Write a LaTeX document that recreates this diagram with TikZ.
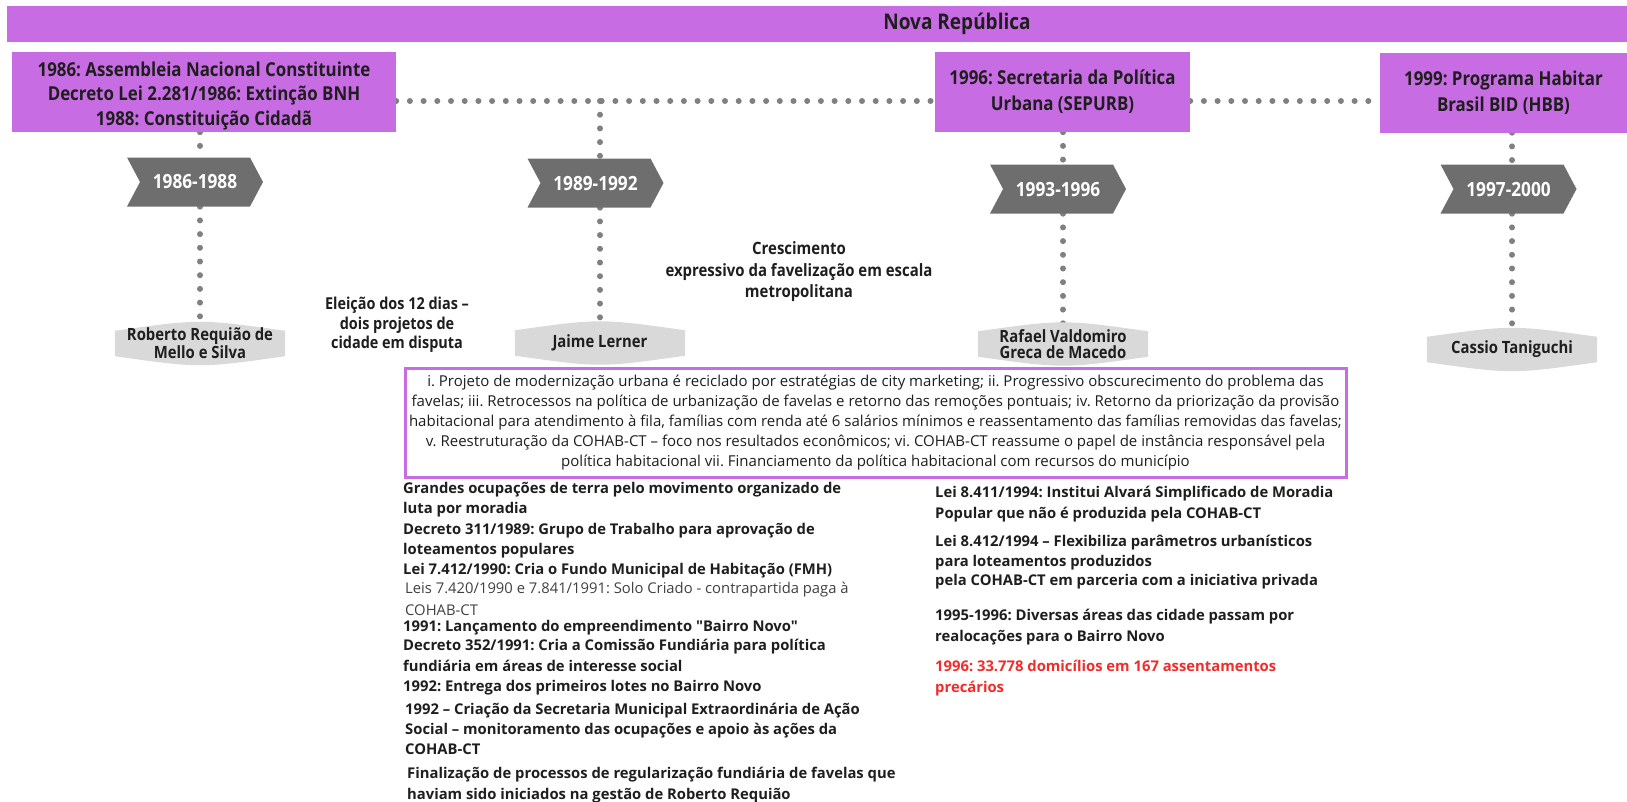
\documentclass[tikz,border=0pt]{standalone}
\usepackage{fontspec}
\newfontfamily\bodyfont{Open Sans}
\newfontfamily\narrowfont{Open Sans}[FakeStretch=0.88]
\usetikzlibrary{shapes.symbols,backgrounds,calc}
\definecolor{rpurple}{HTML}{C86CE4}
\definecolor{rgraydark}{HTML}{6E6E6E}
\definecolor{rgraylight}{HTML}{D9D9D9}
\definecolor{rdots}{HTML}{808080}
\definecolor{rtext}{HTML}{1E1E1E}
\definecolor{rred}{HTML}{F22B2B}
\tikzset{
  evbox/.style={fill=rpurple,inner sep=0pt,text=rtext,align=center,minimum height=80pt,font=\narrowfont\bfseries\fontsize{19.2}{24.4}\selectfont},
  period/.style={shape=signal,signal to=east,signal from=west,signal pointer angle=124,fill=rgraydark,text=white,minimum width=136pt,minimum height=49pt,inner sep=0pt,font=\narrowfont\bfseries\fontsize{19.6}{20}\selectfont},
  gov/.style={inner sep=0pt,minimum width=170pt,minimum height=37pt,align=center,text=rtext,font=\narrowfont\bfseries\fontsize{16.9}{16.6}\selectfont},
  dots/.style={draw=rdots,line width=6pt,line cap=round,dash pattern=on 0pt off 13.7pt},
  note/.style={align=center,inner sep=0pt,text=rtext,font=\narrowfont\bfseries\fontsize{16.4}{19.5}\selectfont},
  item/.style={anchor=west,align=left,inner sep=0pt,text=rtext,font=\bodyfont\bfseries\fontsize{14.8}{20.5}\selectfont},
}
\begin{document}
\frenchspacing
\begin{tikzpicture}[x=1pt,y=-1pt]
\useasboundingbox (0,0) rectangle (1627,801);
% era banner
\fill[rpurple] (7,6) rectangle (1627,42);
\node[text=rtext,font=\narrowfont\bfseries\fontsize{21.6}{22}\selectfont] (era) at (957,24) {Nova República};
% events
\node[evbox,minimum width=384pt] (ev1) at (204,92) {\rule{0pt}{22pt}1986: Assembleia Nacional Constituinte\\Decreto Lei 2.281/1986: Extinção BNH\\1988: Constituição Cidadã};
\node[evbox,minimum width=255pt,font=\narrowfont\bfseries\fontsize{19.2}{26}\selectfont] (ev2) at (1062.5,92) {1996: Secretaria da Política\\Urbana (SEPURB)};
\node[evbox,minimum width=247pt,font=\narrowfont\bfseries\fontsize{19.2}{26}\selectfont] (ev3) at (1503.5,92.5) {1999: Programa Habitar\\Brasil BID (HBB)};
\coordinate (hline) at (0,101);
% periods
\node[period] (per1) at (195,182) {1986-1988};
\node[period] (per2) at (595.5,183) {1989-1992};
\node[period] (per3) at (1058,189) {1993-1996};
\node[period] (per4) at (1508.5,189) {1997-2000};
% mayors
\node[gov] (gov1) at (200,343.5) {Roberto Requião de\\Mello e Silva};
\node[gov] (gov2) at (600,343) {Jaime Lerner};
\node[gov] (gov3) at (1063,344) {Rafael Valdomiro\\Greca de Macedo};
\node[gov] (gov4) at (1512,349.5) {Cassio Taniguchi};
\begin{scope}[on background layer]
\draw[dots] (ev1.east |- hline) -- (ev2.west |- hline);
\draw[dots] (ev2.east |- hline) -- (ev3.west |- hline);
\draw[dots] (gov1 |- ev1.south) -- (gov1 |- per1.north);
\draw[dots] (gov2 |- hline) -- (gov2 |- per2.north);
\draw[dots] (gov3 |- ev2.south) -- (gov3 |- per3.north);
\draw[dots] (gov4 |- ev3.south) -- (gov4 |- per4.north);
\foreach \i in {1,...,4}{
  \draw[dots] (gov\i |- per\i.south) -- (gov\i.north);
  \fill[rgraylight] ($(gov\i.north west)+(0,6)$) .. controls ($(gov\i.north)+(0,-6)$) .. ($(gov\i.north east)+(0,6)$)
    -- ($(gov\i.south east)+(0,-6)$) .. controls ($(gov\i.south)+(0,6)$) .. ($(gov\i.south west)+(0,-6)$) -- cycle;
}
\end{scope}
% notes
\node[note] (elec) at (397,325) {Eleição dos 12 dias –\\dois projetos de\\cidade em disputa};
\node[note,font=\narrowfont\bfseries\fontsize{17}{21.5}\selectfont] (growth) at (799,272) {Crescimento\\expressivo da favelização em escala\\metropolitana};
% policy box
\node[draw=rpurple,line width=3pt,fill=white,minimum width=941pt,minimum height=109pt,inner sep=0pt,align=center,text=rtext,font=\bodyfont\fontsize{15}{20}\selectfont] (policy) at (875.5,422.5) {i. Projeto de modernização urbana é reciclado por estratégias de city marketing; ii. Progressivo obscurecimento do problema das\\favelas; iii. Retrocessos na política de urbanização de favelas e retorno das remoções pontuais; iv. Retorno da priorização da provisão\\habitacional para atendimento à fila, famílias com renda até 6 salários mínimos e reassentamento das famílias removidas das favelas;\\v. Reestruturação da COHAB-CT – foco nos resultados econômicos; vi. COHAB-CT reassume o papel de instância responsável pela\\política habitacional vii. Financiamento da política habitacional com recursos do município};
% left list
\node[item] (l1) at (403,499.5) {Grandes ocupações de terra pelo movimento organizado de\\luta por moradia};
\node[item,font=\bodyfont\bfseries\fontsize{14.8}{20}\selectfont] (l2) at (403,541) {Decreto 311/1989: Grupo de Trabalho para aprovação de\\loteamentos populares};
\node[item] (l3) at (403,571) {Lei 7.412/1990: Cria o Fundo Municipal de Habitação (FMH)};
\node[item,text=black!75,font=\bodyfont\fontsize{14.8}{22}\selectfont] (l4) at (405,599) {Leis 7.420/1990 e 7.841/1991: Solo Criado - contrapartida paga à\\COHAB-CT};
\node[item] (l5) at (403,628) {1991: Lançamento do empreendimento "Bairro Novo"};
\node[item,font=\bodyfont\bfseries\fontsize{14.8}{21}\selectfont] (l6) at (403,655.5) {Decreto 352/1991: Cria a Comissão Fundiária para política\\fundiária em áreas de interesse social};
\node[item] (l7) at (403,688) {1992: Entrega dos primeiros lotes no Bairro Novo};
\node[item,font=\bodyfont\bfseries\fontsize{14.8}{20}\selectfont] (l8) at (405,729) {1992 – Criação da Secretaria Municipal Extraordinária de Ação\\Social – monitoramento das ocupações e apoio às ações da\\COHAB-CT};
\node[item,font=\bodyfont\bfseries\fontsize{14.8}{21}\selectfont] (l9) at (407,785.5) {Finalização de processos de regularização fundiária de favelas que\\haviam sido iniciados na gestão de Roberto Requião};
% right list
\node[item,font=\bodyfont\bfseries\fontsize{14.8}{21}\selectfont] (r1) at (935,504.5) {Lei 8.411/1994: Institui Alvará Simplificado de Moradia\\Popular que não é produzida pela COHAB-CT};
\node[item,font=\bodyfont\bfseries\fontsize{14.8}{19.5}\selectfont] (r2) at (935,562.5) {Lei 8.412/1994 – Flexibiliza parâmetros urbanísticos\\para loteamentos produzidos\\pela COHAB-CT em parceria com a iniciativa privada};
\node[item] (r3) at (935,627) {1995-1996: Diversas áreas das cidade passam por\\realocações para o Bairro Novo};
\node[item,text=rred] (r4) at (935,678) {1996: 33.778 domicílios em 167 assentamentos\\precários};
\end{tikzpicture}
\end{document}
